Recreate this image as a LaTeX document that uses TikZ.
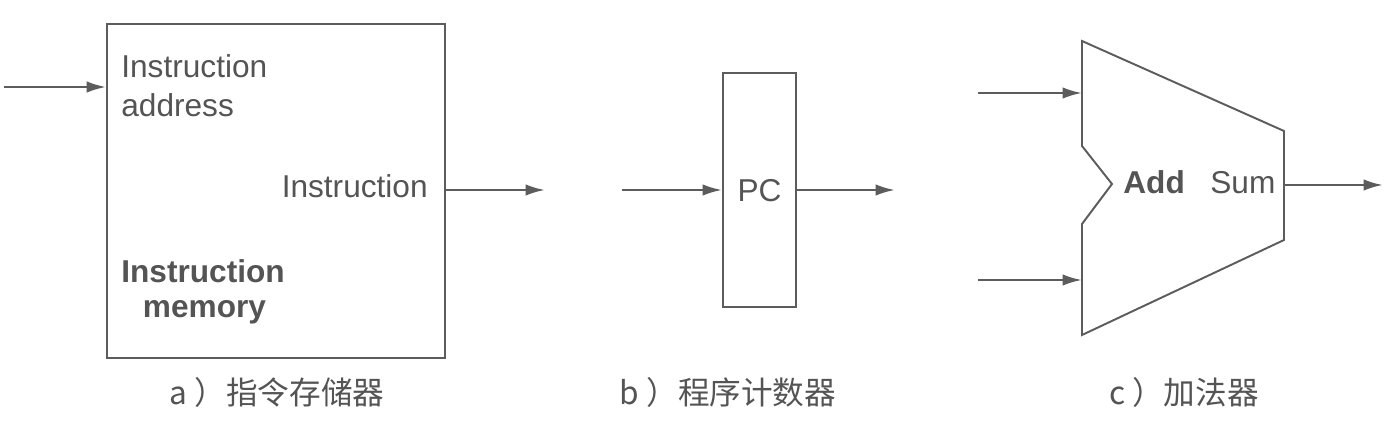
\documentclass[tikz,border=0pt]{standalone}
\usepackage{fontspec}
\setmainfont{Liberation Sans}
\newfontfamily\cjk{Noto Sans CJK SC}
\usetikzlibrary{arrows.meta,positioning}
\definecolor{ink}{rgb}{0.33,0.33,0.33}
\definecolor{wire}{rgb}{0.36,0.36,0.36}
\tikzset{>={Latex[length=11pt,width=6.5pt]}}
\tikzset{%
    unit/.style={draw=wire,line width=1.1pt,inner sep=0pt},%
    lbl/.style={text=ink,inner sep=0pt,font=\fontsize{18}{22}\selectfont},%
    blbl/.style={lbl,font=\fontsize{18}{22}\selectfont\bfseries},%
    caption/.style={lbl,font=\fontsize{18}{22}\selectfont\cjk},%
    wirearrow/.style={->,draw=wire,line width=1.4pt}%
}

\begin{document}
\begin{tikzpicture}[x=0.02cm,y=-0.02cm]
    \useasboundingbox (0,0) rectangle (1394,432);
    % a) instruction memory
    \node[unit,minimum width=6.76cm,minimum height=6.68cm] (imem) at (276,191) {};
    \node[lbl,anchor=base west] (iaddr) at (121,78) {Instruction};
    \node[lbl,anchor=base west] (iaddrb) at (121,117) {address};
    \node[lbl,anchor=base east] (iout) at (428,198) {Instruction};
    \node[blbl,anchor=base west] (iname) at (121,283) {Instruction};
    \node[blbl,anchor=base] (inameb) at (204.5,318) {memory};
    \coordinate (aIn) at (4,87);
    \coordinate (aOut) at (545,190);
    \draw[wirearrow] (aIn) -- (aIn -| imem.west);
    \draw[wirearrow] (imem.east |- aOut) -- (aOut);
    \node[caption,anchor=base] (capa) at (277,405) {a ）指令存储器};
    % b) program counter
    \node[unit,minimum width=1.46cm,minimum height=4.68cm] (pc) at (759.5,190) {};
    \node[lbl,anchor=base] (pcl) at (759.5,202) {PC};
    \coordinate (bIn) at (622,190);
    \coordinate (bOut) at (895,190);
    \draw[wirearrow] (bIn) -- (bIn -| pc.west);
    \draw[wirearrow] (pc.east |- bOut) -- (bOut);
    \node[caption,anchor=base] (capb) at (728,405) {b ）程序计数器};
    % c) adder
    \coordinate (addTL) at (1082,41);
    \coordinate (addTR) at (1284,131);
    \coordinate (addBR) at (1284,240);
    \coordinate (addBL) at (1082,335);
    \coordinate (notchB) at (1082,224);
    \coordinate (notchT) at (1112,184);
    \coordinate (notchA) at (1082,146);
    \draw[draw=wire,line width=1.1pt,line join=miter] (addTL) -- (addTR) -- (addBR) -- (addBL)
        -- (notchB) -- (notchT) -- (notchA) -- cycle;
    \node[blbl,anchor=base west] (addl) at (1123,194) {Add};
    \node[lbl,anchor=base west] (suml) at (1210,194) {Sum};
    \coordinate (cInA) at (978,93);
    \coordinate (cInB) at (978,280);
    \coordinate (cOut) at (1383,185);
    \draw[wirearrow] (cInA) -- (cInA -| addTL);
    \draw[wirearrow] (cInB) -- (cInB -| addTL);
    \draw[wirearrow] (cOut -| addTR) -- (cOut);
    \node[caption,anchor=base] (capc) at (1184,405) {c ）加法器};
\end{tikzpicture}
\end{document}
